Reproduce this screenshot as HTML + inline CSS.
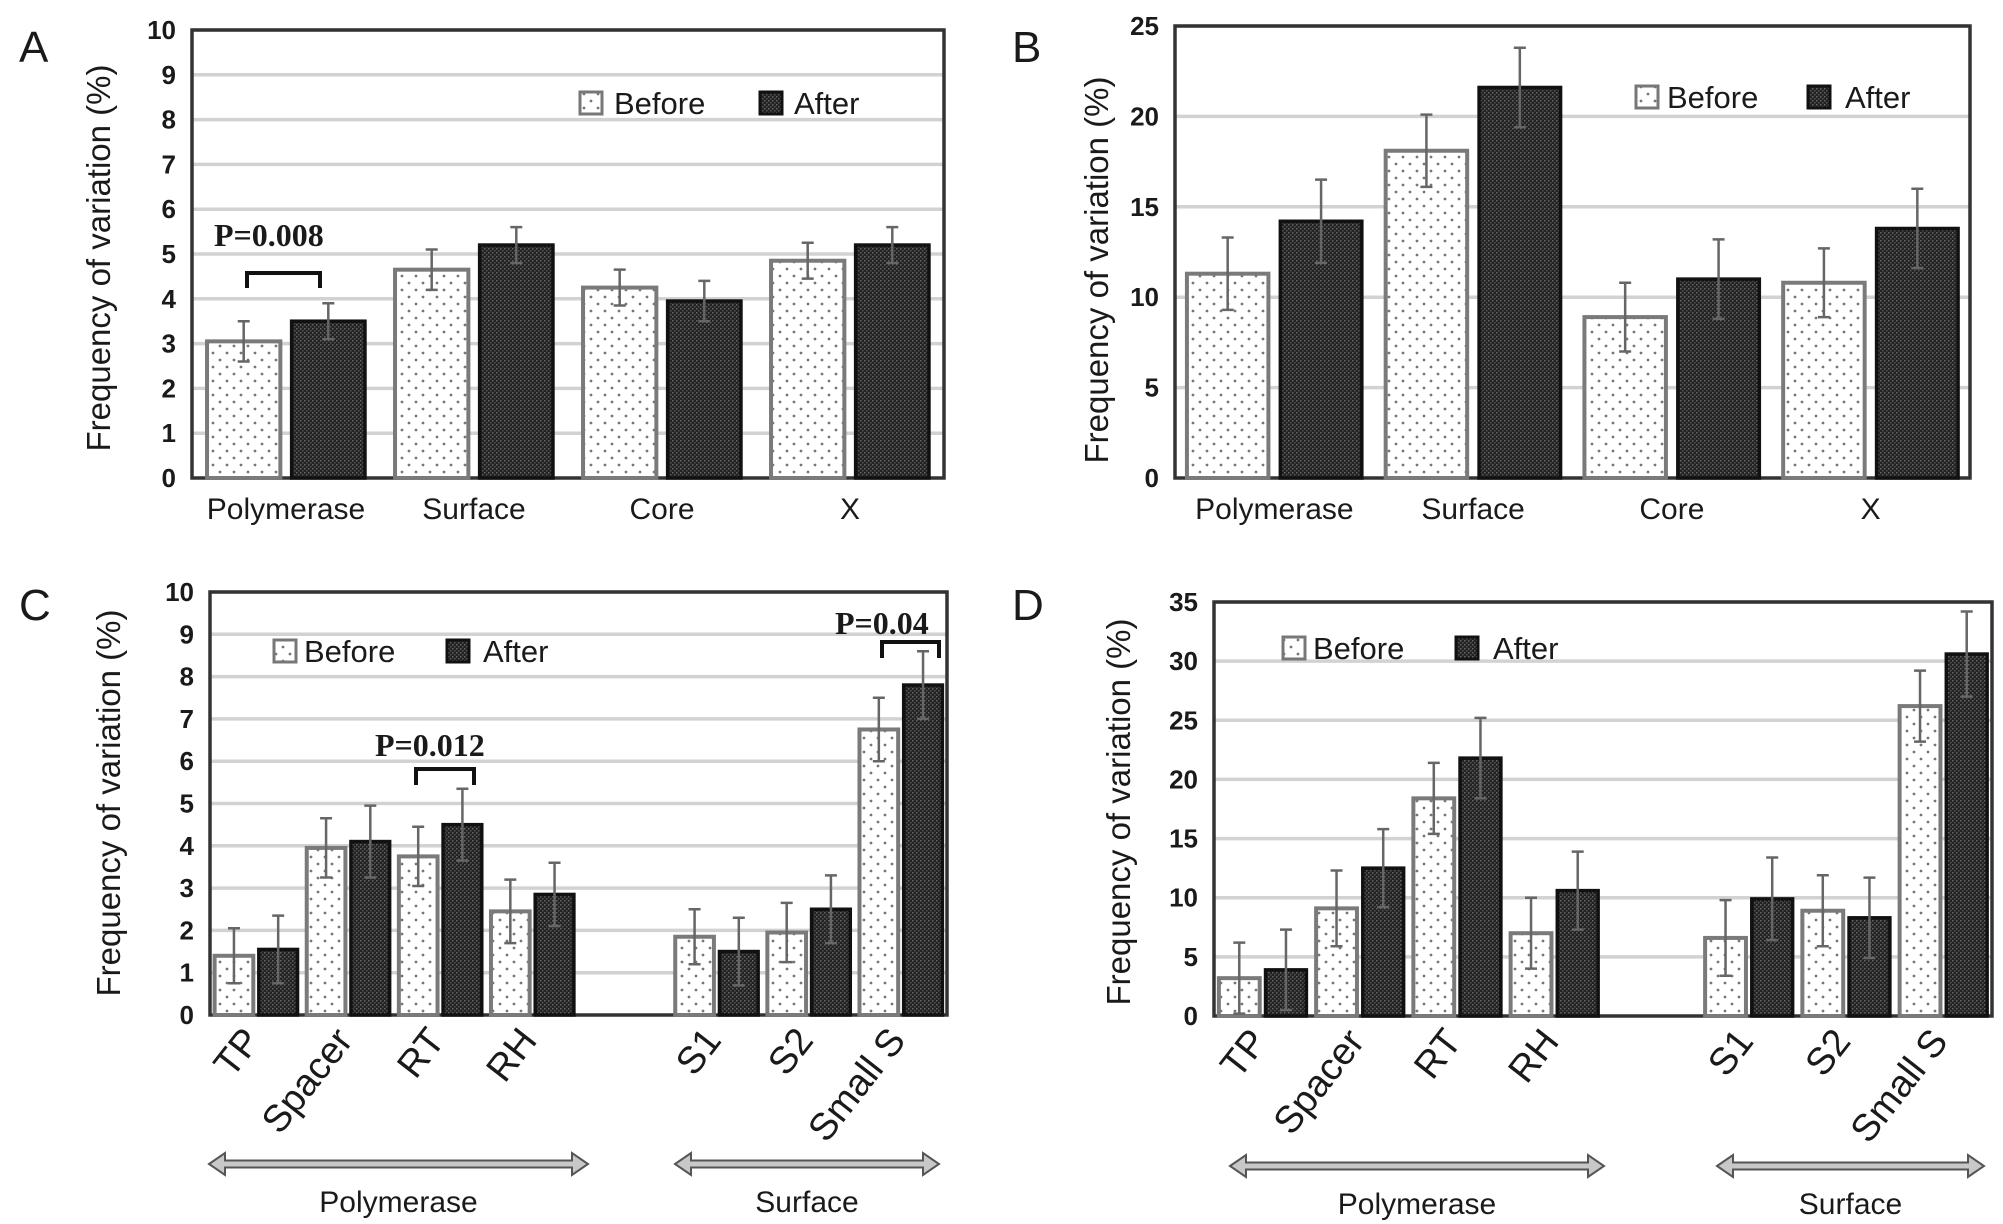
<!DOCTYPE html>
<html><head><meta charset="utf-8">
<style>
html,body{margin:0;padding:0;background:#fff;}
svg{display:block;}
text{font-family:"Liberation Sans",Arial,sans-serif;fill:#1a1a1a;}
.pv{font-family:"Liberation Serif",serif;font-weight:bold;}
</style></head>
<body>
<svg id="fig" width="2003" height="1224" viewBox="0 0 2003 1224" xmlns="http://www.w3.org/2000/svg">
<defs>
<pattern id="dots" width="14" height="14" patternUnits="userSpaceOnUse">
<rect width="14" height="14" fill="#fff"/><circle cx="3" cy="3" r="1.4" fill="#777"/><circle cx="10" cy="10" r="1.4" fill="#777"/>
</pattern>
<pattern id="dark" width="4" height="4" patternUnits="userSpaceOnUse">
<rect width="4" height="4" fill="#222"/><rect x="0" y="0" width="1.5" height="1.5" fill="#666"/><rect x="2" y="2" width="1.5" height="1.5" fill="#555"/>
</pattern>
</defs>
<g id="root"></g>
</svg>
<script>
// ---- Panel A data ----
const catsA = ["Polymerase","Surface","Core","X"];
const beforeA = [3.05,4.65,4.25,4.85];
const afterA = [3.5,5.2,3.95,5.2];
const errBeforeA = [0.45,0.45,0.4,0.4];
const errAfterA = [0.4,0.4,0.45,0.4];
const ticksA = [0,1,2,3,4,5,6,7,8,9,10];
// ---- Panel B data ----
const catsB = ["Polymerase","Surface","Core","X"];
const beforeB = [11.3,18.1,8.9,10.8];
const afterB = [14.2,21.6,11.0,13.8];
const errBeforeB = [2.0,2.0,1.9,1.9];
const errAfterB = [2.3,2.2,2.2,2.2];
const ticksB = [0,5,10,15,20,25];
// ---- Panel C data ----
const catsC = ["TP","Spacer","RT","RH","","S1","S2","Small S"];
const beforeC = [1.4,3.95,3.75,2.45,null,1.85,1.95,6.75];
const afterC = [1.55,4.1,4.5,2.85,null,1.5,2.5,7.8];
const errBeforeC = [0.65,0.7,0.7,0.75,null,0.65,0.7,0.75];
const errAfterC = [0.8,0.85,0.85,0.75,null,0.8,0.8,0.8];
const ticksC = [0,1,2,3,4,5,6,7,8,9,10];
// ---- Panel D data ----
const catsD = ["TP","Spacer","RT","RH","","S1","S2","Small S"];
const beforeD = [3.2,9.1,18.4,7.0,null,6.6,8.9,26.2];
const afterD = [3.9,12.5,21.8,10.6,null,9.9,8.3,30.6];
const errBeforeD = [3.0,3.2,3.0,3.0,null,3.2,3.0,3.0];
const errAfterD = [3.4,3.3,3.4,3.3,null,3.5,3.4,3.6];
const ticksD = [0,5,10,15,20,25,30,35];

const NS="http://www.w3.org/2000/svg";
const root=document.getElementById('root');
function mk(tag,attrs,parent,txt){const e=document.createElementNS(NS,tag);for(const k in attrs)e.setAttribute(k,attrs[k]);if(txt!==undefined)e.textContent=txt;(parent||root).appendChild(e);return e;}

function panel(cfg){
  const g=mk('g',{});
  
  
  const {x0,x1,yTop,yZero,max}=cfg;
  const ys=v=>yZero-(v/max)*(yZero-yTop);
  const n=cfg.cats.length, band=(x1-x0)/n;
  const xc=i=>x0+band*(i+0.5);
  cfg.ticks.forEach(t=>{
    if(t>0){const gl=mk('line',{x1:x0,x2:x1,y1:ys(t),y2:ys(t),stroke:'#d2d2d2','stroke-width':3.5},g);
      
      }
    const tl=mk('text',{x:x0-16,y:ys(t)+9,'text-anchor':'end','font-size':26,'font-weight':'bold','fill':'#333'},g,String(t));
    
    
  });
  const fr=mk('rect',{x:x0,y:yTop,width:x1-x0,height:yZero-yTop,fill:'none',stroke:'#333','stroke-width':3.5},g);
  
  
  const bw=band*cfg.bwFrac, gap=band*0.03;
  cfg.cats.forEach((c,i)=>{
    const cx=xc(i);
    if(cfg.before[i]!=null){
      const b=mk('rect',{x:cx-gap-bw,y:ys(cfg.before[i]),width:bw,height:yZero-ys(cfg.before[i]),fill:'url(#dots)',stroke:'#7a7a7a','stroke-width':4},g);
      
      
      const a=mk('rect',{x:cx+gap,y:ys(cfg.after[i]),width:bw,height:yZero-ys(cfg.after[i]),fill:'url(#dark)',stroke:'#111','stroke-width':3.5},g);
      
      
      [[cx-gap-bw/2,cfg.before[i],cfg.errB[i]],[cx+gap+bw/2,cfg.after[i],cfg.errA[i]]].forEach(([ex,v,e])=>{
        const eb=mk('path',{d:`M${ex},${ys(v-e)}V${ys(v+e)}M${ex-6},${ys(v+e)}H${ex+6}M${ex-6},${ys(v-e)}H${ex+6}`,stroke:'#666','stroke-width':2.5,fill:'none'},g);
        
        
      });
    }
    if(c){
      let lbl;
      if(cfg.rot){
        lbl=mk('text',{x:cx+6,y:yZero+26,'text-anchor':'end','font-size':38,transform:`rotate(-52 ${cx+6} ${yZero+26})`},g,c);
      } else {
        lbl=mk('text',{x:cx,y:yZero+41,'text-anchor':'middle','font-size':30},g,c);
      }
      
      
    }
  });
  const yt=mk('text',{x:cfg.titleX,y:cfg.titleY,'text-anchor':'middle','font-size':33,transform:`rotate(-90 ${cfg.titleX} ${cfg.titleY})`},g,'Frequency of variation (%)');
  
  
  const pl=mk('text',{x:cfg.letterX,y:cfg.letterY,'font-size':44},g,cfg.letter);
  
  
  const L=cfg.legend;
  const lb=mk('rect',{x:L.bx,y:L.y-11,width:22,height:22,fill:'url(#dots)',stroke:'#777','stroke-width':3},g);
  
  
  const lt=mk('text',{x:L.tx,y:L.y+11,'font-size':31},g,'Before');
  
  
  const la=mk('rect',{x:L.ax,y:L.y-11,width:22,height:22,fill:'url(#dark)',stroke:'#111','stroke-width':3},g);
  
  
  const lat=mk('text',{x:L.atx,y:L.y+11,'font-size':31},g,'After');
  
  
  return {g,ys,xc};
}

function pval(g,txt,tx,ty,bx1,bx2,by1,by2){
  const t=mk('text',{x:tx,y:ty,'font-size':32,class:'pv'},g,txt);
  
  
  const b=mk('path',{d:`M${bx1},${by2}V${by1}H${bx2}V${by2}`,stroke:'#111','stroke-width':4,fill:'none'},g);
  
  
}

function arrow(g,xa,xb,y,label,name){
  const h=7,hw=16;
  const p=mk('path',{d:`M${xa},${y}L${xa+hw},${y-h-4}V${y-h/2}H${xb-hw}V${y-h-4}L${xb},${y}L${xb-hw},${y+h+4}V${y+h/2}H${xa+hw}V${y+h+4}Z`,fill:'#c8c8c8',stroke:'#555','stroke-width':2},g);
  
  
  const t=mk('text',{x:(xa+xb)/2,y:y+48,'text-anchor':'middle','font-size':30},g,label);
  
  
}

const A=panel({name:'panel-a',letter:'A',letterX:19,letterY:62,x0:192,x1:944,yTop:30,yZero:478,max:10,cats:catsA,before:beforeA,after:afterA,errB:errBeforeA,errA:errAfterA,ticks:ticksA,bwFrac:0.39,titleX:110,titleY:258,legend:{bx:580,tx:614,ax:760,atx:794,y:103}});
pval(A.g,'P=0.008',214,246,247,320,273,288);

const B=panel({name:'panel-b',letter:'B',letterX:1012,letterY:62,x0:1175,x1:1970,yTop:26,yZero:478,max:25,cats:catsB,before:beforeB,after:afterB,errB:errBeforeB,errA:errAfterB,ticks:ticksB,bwFrac:0.41,titleX:1108,titleY:270,legend:{bx:1636,tx:1667,ax:1808,atx:1845,y:97}});

const C=panel({name:'panel-c',letter:'C',letterX:19,letterY:620,x0:210,x1:947,yTop:592,yZero:1015,max:10,cats:catsC,before:beforeC,after:afterC,errB:errBeforeC,errA:errAfterC,ticks:ticksC,bwFrac:0.42,rot:true,titleX:120,titleY:803,legend:{bx:274,tx:304,ax:447,atx:483,y:651}});
pval(C.g,'P=0.012',375,756,416,474,769,785);
pval(C.g,'P=0.04',835,634,882,939,642,658);
arrow(C.g,209,588,1164,'Polymerase','polymerase');
arrow(C.g,675,939,1164,'Surface','surface');

const D=panel({name:'panel-d',letter:'D',letterX:1012,letterY:620,x0:1214,x1:1992,yTop:602,yZero:1016,max:35,cats:catsD,before:beforeD,after:afterD,errB:errBeforeD,errA:errAfterD,ticks:ticksD,bwFrac:0.42,rot:true,titleX:1130,titleY:812,legend:{bx:1283,tx:1313,ax:1456,atx:1493,y:648}});
arrow(D.g,1230,1604,1166,'Polymerase','polymerase');
arrow(D.g,1717,1984,1166,'Surface','surface');
</script>
</body></html>
